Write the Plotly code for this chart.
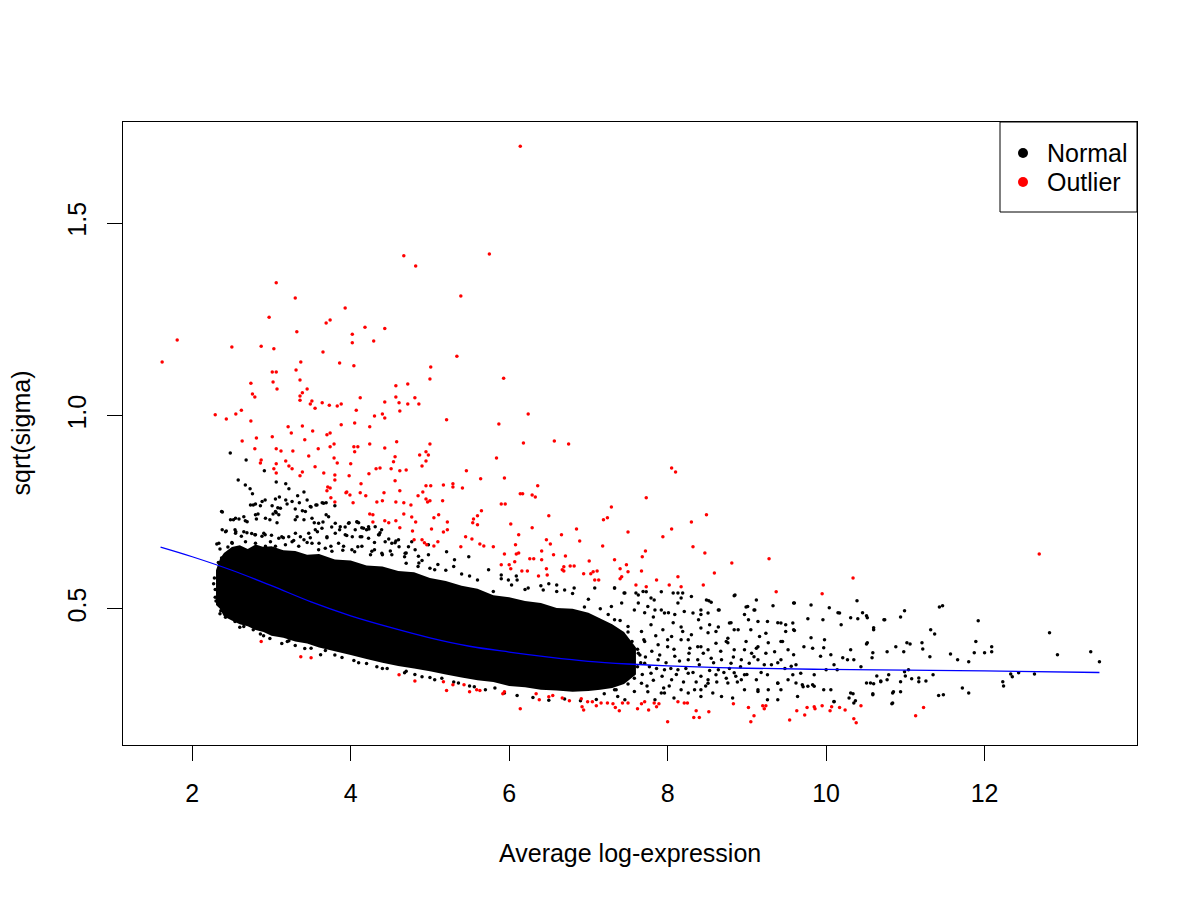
import plotly.graph_objects as go

# ---- data ----
# trend line (sqrt(sigma) vs average log-expression)
trend_x = [1.6, 2.0, 2.5, 3.0, 3.5, 4.0, 4.5, 5.0, 5.5, 6.0, 6.5, 7.0, 7.5, 8.0, 9.0, 10.0, 11.0, 12.0, 13.45]
trend_y = [0.660, 0.635, 0.600, 0.560, 0.518, 0.482, 0.452, 0.425, 0.403, 0.388, 0.375, 0.364, 0.357, 0.352, 0.346, 0.343, 0.341, 0.339, 0.335]

# envelope of the solid black core (too many points to tell apart)
core_x = [2.30, 2.35, 2.40, 2.50, 2.60, 2.70, 2.80, 2.90, 3.00, 3.15, 3.30, 3.45, 3.60, 3.80, 4.00, 4.20, 4.40,
          4.60, 4.80, 5.00, 5.20, 5.40, 5.60, 5.80, 6.00, 6.20, 6.40, 6.60, 6.80, 7.00, 7.15, 7.30, 7.45, 7.60]
core_top = [0.60, 0.63, 0.645, 0.66, 0.665, 0.655, 0.667, 0.66, 0.662, 0.652, 0.65, 0.64, 0.642, 0.628, 0.625, 0.612, 0.61,
            0.598, 0.595, 0.58, 0.572, 0.56, 0.552, 0.535, 0.53, 0.52, 0.515, 0.502, 0.50, 0.49, 0.475, 0.46, 0.44, 0.40]
core_bot = [0.51, 0.50, 0.48, 0.47, 0.46, 0.455, 0.445, 0.44, 0.43, 0.425, 0.415, 0.41, 0.40, 0.39, 0.38, 0.37, 0.36,
            0.352, 0.345, 0.338, 0.33, 0.322, 0.315, 0.31, 0.30, 0.297, 0.29, 0.288, 0.285, 0.287, 0.29, 0.295, 0.305, 0.33]

# normal genes outside the solid core
normal_pts = [
    (2.48, 0.904), (2.68, 0.886), (2.58, 0.834), (3.06, 0.829), (2.91, 0.858), (2.67, 0.821), (2.73, 0.811),
    (2.76, 0.798), (3.18, 0.824), (3.22, 0.811), (3.41, 0.803), (3.33, 0.793), (3.10, 0.790), (2.92, 0.782),
    (2.86, 0.767), (2.77, 0.769), (3.05, 0.785), (3.18, 0.782), (3.45, 0.782), (3.56, 0.769), (3.64, 0.775),
    (3.69, 0.775), (3.80, 0.767), (3.50, 0.764), (3.30, 0.759), (3.08, 0.762), (3.06, 0.749), (2.38, 0.751),
    (3.02, 0.746), (2.83, 0.746), (2.52, 0.731), (2.59, 0.733), (2.67, 0.728), (2.81, 0.733), (2.98, 0.731),
    (3.07, 0.723), (3.30, 0.731), (3.39, 0.754), (3.41, 0.731), (3.54, 0.723), (3.65, 0.725), (3.69, 0.744),
    (3.76, 0.712), (3.86, 0.705), (3.98, 0.723), (4.08, 0.725), (4.14, 0.710), (4.20, 0.705), (4.39, 0.705),
    (2.43, 0.702), (2.54, 0.705), (2.69, 0.697), (2.79, 0.692), (2.92, 0.692), (3.13, 0.687), (3.26, 0.674),
    (3.41, 0.679), (3.49, 0.684), (3.70, 0.684), (4.02, 0.687), (4.36, 0.692), (4.48, 0.681), (4.57, 0.676),
    (2.31, 0.668), (4.61, 0.661), (4.09, 0.661),
    (2.735, 0.769), (2.798, 0.772), (2.882, 0.778), (3.008, 0.767), (3.113, 0.761), (3.197, 0.772), (3.260, 0.778),
    (3.352, 0.775), (3.490, 0.765), (3.574, 0.769), (3.658, 0.774), (2.370, 0.752), (3.050, 0.752), (2.483, 0.731),
    (2.546, 0.735), (2.651, 0.739), (2.693, 0.726), (2.798, 0.744), (2.924, 0.735), (3.092, 0.744), (3.323, 0.739),
    (3.428, 0.752), (3.511, 0.735), (3.595, 0.722), (3.721, 0.739), (3.805, 0.722), (3.868, 0.713), (3.973, 0.722),
    (4.078, 0.726), (4.162, 0.709), (4.225, 0.713), (4.309, 0.713), (2.420, 0.700), (2.378, 0.705), (2.546, 0.696),
    (2.651, 0.700), (2.798, 0.692), (2.903, 0.696), (2.987, 0.674), (3.092, 0.683), (3.218, 0.687), (3.302, 0.696),
    (3.365, 0.687), (3.470, 0.696), (3.553, 0.705), (3.637, 0.709), (3.700, 0.687), (3.805, 0.696), (3.847, 0.670),
    (3.931, 0.692), (4.057, 0.705), (4.120, 0.687), (4.225, 0.683), (4.351, 0.692), (4.435, 0.674), (4.519, 0.670),
    (4.603, 0.679), (4.729, 0.661), (4.813, 0.653), (2.336, 0.670), (2.504, 0.670), (2.672, 0.674), (2.798, 0.670),
    (2.924, 0.662), (3.050, 0.662), (3.176, 0.666), (3.344, 0.662), (3.511, 0.670), (3.595, 0.653), (3.679, 0.657),
    (3.763, 0.649), (3.910, 0.662), (4.015, 0.653), (4.141, 0.662), (4.267, 0.649), (4.393, 0.644), (4.519, 0.640),
    (4.687, 0.644), (4.855, 0.636), (4.981, 0.640),
    (2.35, 0.655), (2.50, 0.672), (2.62, 0.688), (2.75, 0.695), (2.88, 0.688), (3.00, 0.691), (3.15, 0.684),
    (3.28, 0.677), (3.45, 0.672), (3.60, 0.670), (3.75, 0.662), (3.90, 0.652), (4.05, 0.648), (4.25, 0.640),
    (4.40, 0.640), (4.70, 0.618), (4.85, 0.610), (5.00, 0.605), (2.55, 0.700), (3.58, 0.700), (3.95, 0.690),
    (4.30, 0.672),
    (4.10, 0.723), (4.23, 0.707), (4.37, 0.697), (4.56, 0.671), (4.77, 0.674), (4.98, 0.666), (5.21, 0.648),
    (5.31, 0.627), (5.49, 0.635), (5.74, 0.601), (5.90, 0.588), (5.99, 0.575), (4.30, 0.653), (4.68, 0.635),
    (4.86, 0.619), (5.06, 0.601), (3.93, 0.712), (4.14, 0.687),
    (2.35, 0.487), (2.54, 0.467), (2.65, 0.454), (2.77, 0.446), (2.86, 0.435), (2.98, 0.423), (3.13, 0.410),
    (3.22, 0.417), (3.30, 0.405), (3.42, 0.397), (3.62, 0.381), (3.68, 0.392), (3.89, 0.374), (4.04, 0.366),
    (4.20, 0.358), (4.33, 0.350), (4.46, 0.345), (4.68, 0.334), (4.81, 0.330), (5.06, 0.316), (5.36, 0.308),
    (5.56, 0.298), (5.82, 0.295), (5.94, 0.282), (4.90, 0.324), (5.15, 0.320),
    (2.29, 0.550), (2.28, 0.580), (2.29, 0.530), (2.33, 0.620), (2.27, 0.565), (2.30, 0.520), (2.36, 0.495),
    (2.42, 0.478), (2.37, 0.632), (2.45, 0.660),
    (6.20, 0.550), (5.80, 0.545), (5.60, 0.575), (5.40, 0.590), (5.20, 0.600), (5.50, 0.585), (5.30, 0.610),
    (5.10, 0.615), (4.90, 0.625), (4.70, 0.645), (4.50, 0.650), (6.40, 0.560), (6.60, 0.545), (6.80, 0.540),
    (7.00, 0.525), (6.10, 0.575), (6.50, 0.565), (6.95, 0.505), (7.15, 0.500), (7.25, 0.485), (7.40, 0.470),
    (7.50, 0.440), (7.55, 0.415), (7.65, 0.380), (7.62, 0.350), (7.58, 0.320), (7.50, 0.305), (7.35, 0.290),
    (7.20, 0.280),
    (6.10, 0.275), (6.30, 0.270), (6.50, 0.263), (6.70, 0.266), (6.90, 0.262), (7.10, 0.265), (5.70, 0.290),
    (5.50, 0.300), (5.30, 0.310), (5.00, 0.322), (4.70, 0.338), (4.40, 0.345), (4.10, 0.360), (3.80, 0.380),
    (3.50, 0.398), (3.20, 0.415), (2.90, 0.430), (2.60, 0.452),
    (7.62, 0.395), (7.66, 0.360), (7.68, 0.330), (7.72, 0.375), (7.74, 0.300), (7.77, 0.350), (7.80, 0.390),
    (7.82, 0.315), (7.86, 0.345), (7.90, 0.380), (7.93, 0.325), (7.98, 0.360), (8.02, 0.300), (8.04, 0.345),
    (8.08, 0.395), (8.11, 0.330), (8.15, 0.365), (8.20, 0.310), (8.23, 0.345), (8.27, 0.385), (8.32, 0.335),
    (8.36, 0.310), (8.40, 0.355), (8.45, 0.385), (8.48, 0.300), (8.53, 0.340), (8.58, 0.360), (8.62, 0.310),
    (8.67, 0.390), (8.71, 0.335), (8.78, 0.345), (8.83, 0.375), (8.88, 0.310), (8.92, 0.350), (9.00, 0.330),
    (9.06, 0.385), (9.18, 0.335), (9.22, 0.355), (9.48, 0.345), (9.62, 0.355), (7.70, 0.420), (7.85, 0.430),
    (8.00, 0.420), (7.75, 0.285), (7.95, 0.295),
    (5.90, 0.578), (6.09, 0.585), (6.03, 0.562), (6.24, 0.554), (6.43, 0.549), (6.60, 0.562), (6.70, 0.549),
    (6.82, 0.554), (7.08, 0.554), (7.33, 0.554), (7.45, 0.541), (7.60, 0.541), (7.73, 0.544), (7.92, 0.544),
    (8.13, 0.541), (8.17, 0.528), (8.52, 0.521), (8.85, 0.536), (9.12, 0.523), (9.59, 0.515), (9.81, 0.510),
    (10.04, 0.503), (10.39, 0.521), (10.94, 0.479), (8.99, 0.505), (9.09, 0.497), (8.64, 0.497), (8.80, 0.464),
    (9.02, 0.472), (9.39, 0.464), (9.49, 0.459), (9.59, 0.446), (9.77, 0.474), (9.96, 0.472), (10.15, 0.490),
    (10.31, 0.477), (10.40, 0.474), (10.52, 0.477), (10.73, 0.472), (10.60, 0.446), (10.52, 0.412), (10.59, 0.386),
    (10.88, 0.402), (10.77, 0.389), (10.31, 0.394), (10.35, 0.368), (10.44, 0.350), (10.21, 0.373), (10.10, 0.355),
    (9.97, 0.399), (9.81, 0.425), (9.72, 0.402), (9.59, 0.381), (9.43, 0.415), (9.39, 0.360), (9.27, 0.412),
    (9.14, 0.402), (9.09, 0.376), (8.99, 0.415), (8.84, 0.446), (8.76, 0.412), (8.64, 0.453), (8.51, 0.438),
    (8.42, 0.402), (8.39, 0.472), (8.26, 0.420), (8.17, 0.453), (8.07, 0.464), (8.01, 0.490), (7.92, 0.497),
    (7.82, 0.479), (7.71, 0.490), (7.63, 0.515), (7.83, 0.523), (8.42, 0.497),
    (8.84, 0.334), (8.93, 0.316), (9.14, 0.290), (9.27, 0.290), (9.39, 0.264), (9.39, 0.308), (9.52, 0.316),
    (9.62, 0.308), (9.71, 0.298), (9.83, 0.303), (9.97, 0.290), (10.10, 0.259), (10.31, 0.282), (10.35, 0.256),
    (10.56, 0.308), (10.69, 0.311), (10.59, 0.277), (10.84, 0.256), (10.85, 0.285), (8.64, 0.342), (8.51, 0.316),
    (8.76, 0.308), (8.42, 0.290), (8.26, 0.282), (8.08, 0.269), (7.92, 0.282),
    (7.33, 0.554), (7.46, 0.541), (7.63, 0.536), (7.69, 0.545), (7.79, 0.528), (8.07, 0.541), (8.19, 0.541),
    (8.13, 0.515), (8.30, 0.532), (8.49, 0.523), (8.55, 0.517), (8.84, 0.534), (9.33, 0.508), (9.60, 0.515),
    (7.29, 0.506), (7.42, 0.515), (7.58, 0.497), (7.75, 0.506), (7.84, 0.497), (7.96, 0.489), (8.09, 0.485),
    (8.21, 0.493), (8.32, 0.489), (8.42, 0.485), (8.51, 0.489), (8.65, 0.497), (8.78, 0.463), (8.97, 0.485),
    (9.01, 0.506), (9.10, 0.497), (9.14, 0.467), (9.26, 0.467), (9.43, 0.463), (9.58, 0.463), (10.17, 0.489),
    (10.19, 0.459), (7.33, 0.472), (7.50, 0.454), (7.67, 0.441), (7.79, 0.459), (7.94, 0.446), (8.05, 0.428),
    (8.19, 0.441), (8.30, 0.433), (8.42, 0.450), (8.53, 0.459), (8.61, 0.441), (8.76, 0.424), (8.89, 0.446),
    (9.05, 0.446), (9.16, 0.428), (9.24, 0.437), (9.49, 0.441), (9.60, 0.444), (9.98, 0.420), (7.21, 0.420),
    (7.37, 0.411), (7.54, 0.398), (7.71, 0.415), (7.88, 0.407), (8.00, 0.402), (8.17, 0.420), (8.28, 0.398),
    (8.38, 0.402), (8.51, 0.394), (8.61, 0.411), (8.74, 0.415), (8.84, 0.394), (8.97, 0.394), (9.12, 0.398),
    (9.24, 0.385), (9.35, 0.389), (9.45, 0.415), (9.52, 0.394), (9.83, 0.398), (9.93, 0.377), (10.06, 0.381),
    (10.27, 0.368), (8.26, 0.368), (8.38, 0.368), (8.55, 0.372), (8.68, 0.368), (8.80, 0.359), (8.93, 0.368),
    (9.03, 0.359), (9.14, 0.368), (9.31, 0.355), (9.43, 0.368), (9.56, 0.351), (9.68, 0.333), (9.85, 0.329),
    (10.00, 0.342), (10.14, 0.342), (8.26, 0.333), (8.42, 0.325), (8.51, 0.307), (8.61, 0.329), (8.74, 0.320),
    (8.86, 0.325), (8.97, 0.329), (9.12, 0.316), (9.26, 0.329), (9.39, 0.307), (9.43, 0.290), (9.58, 0.329),
    (9.70, 0.303), (9.85, 0.299), (10.06, 0.290), (10.29, 0.269), (8.34, 0.290), (8.42, 0.273), (8.57, 0.282),
    (8.68, 0.273), (8.82, 0.269), (8.97, 0.290), (9.14, 0.286), (9.26, 0.264), (9.64, 0.273), (9.77, 0.299),
    (10.10, 0.260), (8.09, 0.377), (8.13, 0.342), (8.05, 0.316), (8.17, 0.290), (7.96, 0.342), (7.88, 0.368),
    (7.79, 0.333), (7.67, 0.307), (7.58, 0.286), (7.96, 0.282), (7.71, 0.359), (7.63, 0.385), (7.48, 0.368),
    (7.42, 0.325), (7.33, 0.290), (7.25, 0.368), (7.21, 0.316), (7.37, 0.273), (7.84, 0.264), (7.46, 0.264),
    (10.46, 0.490), (10.51, 0.482), (10.60, 0.451), (10.74, 0.472), (10.99, 0.495), (11.43, 0.505), (11.47, 0.508),
    (11.32, 0.446), (11.37, 0.435), (11.92, 0.469), (11.89, 0.415), (12.82, 0.438), (12.92, 0.381), (13.34, 0.389),
    (13.45, 0.363), (10.51, 0.409), (10.58, 0.373), (10.98, 0.389), (11.02, 0.412), (11.06, 0.409), (11.21, 0.412),
    (11.22, 0.396), (11.31, 0.376), (11.57, 0.383), (11.66, 0.368), (11.80, 0.363), (11.87, 0.386), (12.00, 0.386),
    (12.09, 0.389), (12.09, 0.402), (10.64, 0.326), (10.79, 0.329), (10.99, 0.337), (11.00, 0.326), (11.08, 0.319),
    (11.17, 0.321), (11.26, 0.313), (11.35, 0.329), (10.51, 0.308), (10.60, 0.306), (10.69, 0.313), (10.77, 0.316),
    (10.94, 0.311), (11.17, 0.311), (10.34, 0.280), (10.59, 0.280), (10.84, 0.282), (10.94, 0.285), (11.42, 0.275),
    (11.48, 0.277), (11.72, 0.295), (11.80, 0.282), (12.23, 0.311), (12.24, 0.300), (12.33, 0.331), (12.35, 0.324),
    (12.43, 0.334), (12.63, 0.331), (10.37, 0.262), (10.83, 0.254), (11.04, 0.342),
]

# outlier genes (red)
outlier_pts = [
    (1.62, 1.140), (1.81, 1.197), (2.97, 1.256), (3.93, 1.280), (3.69, 1.241), (3.74, 1.249), (3.32, 1.218),
    (2.50, 1.179), (2.87, 1.181), (3.03, 1.174), (4.02, 1.212), (4.18, 1.230), (4.43, 1.227), (4.29, 1.194),
    (4.02, 1.190), (3.65, 1.166), (3.86, 1.137), (4.04, 1.130), (3.37, 1.140), (3.31, 1.119), (3.01, 1.114),
    (3.06, 1.114), (3.36, 1.093), (2.74, 1.085), (3.02, 1.088), (3.07, 1.070), (3.45, 1.070), (3.39, 1.060),
    (2.76, 1.057), (2.79, 1.049), (3.36, 1.052), (3.36, 1.041), (3.51, 1.039), (3.49, 1.031), (3.64, 1.034),
    (3.55, 1.020), (3.73, 1.028), (3.83, 1.026), (3.88, 1.031), (4.12, 1.047), (4.43, 1.036), (4.57, 1.078),
    (4.72, 1.083), (4.57, 1.049), (4.81, 1.047), (4.61, 1.034), (4.72, 1.031), (4.86, 1.031), (4.62, 1.013),
    (5.01, 1.127), (5.00, 1.096), (5.34, 1.155), (5.93, 1.098), (5.21, 0.990), (5.87, 0.979), (2.29, 1.003),
    (2.43, 0.992), (2.55, 1.005), (2.62, 1.015), (2.74, 0.987), (3.21, 0.972), (3.25, 0.956), (3.39, 0.974),
    (3.52, 0.961), (3.70, 0.951), (3.74, 0.956), (3.88, 0.977), (4.05, 0.982), (4.07, 1.015), (4.30, 1.000),
    (4.40, 1.005), (4.43, 0.995), (4.24, 0.972), (2.63, 0.935), (2.81, 0.943), (3.01, 0.946), (2.79, 0.915),
    (3.06, 0.915), (3.27, 0.909), (3.12, 0.909), (3.42, 0.938), (3.59, 0.915), (3.74, 0.920), (3.79, 0.927),
    (4.04, 0.920), (4.09, 0.920), (4.05, 0.907), (4.24, 0.927), (4.43, 0.917), (4.58, 0.933), (5.00, 0.927),
    (4.87, 0.899), (4.95, 0.907), (4.98, 0.899), (3.47, 0.896), (2.87, 0.886), (2.86, 0.878), (3.06, 0.876),
    (3.18, 0.883), (3.79, 0.891), (3.83, 0.878), (4.00, 0.876), (4.56, 0.894), (4.54, 0.881), (4.95, 0.883),
    (4.90, 0.870), (3.03, 0.863), (3.06, 0.852), (3.22, 0.870), (3.26, 0.863), (3.39, 0.855), (3.36, 0.845),
    (3.55, 0.868), (3.66, 0.852), (3.80, 0.847), (3.80, 0.834), (3.98, 0.845), (4.23, 0.850), (4.32, 0.863),
    (4.37, 0.865), (4.51, 0.863), (4.62, 0.858), (4.70, 0.860), (5.46, 0.858), (5.64, 0.837), (5.94, 0.839),
    (5.84, 0.891), (3.71, 0.816), (3.74, 0.813), (3.70, 0.806), (3.94, 0.801), (3.95, 0.803), (4.13, 0.824),
    (4.12, 0.801), (4.19, 0.793), (4.42, 0.801), (4.56, 0.832), (4.62, 0.806), (4.85, 0.793), (4.91, 0.803),
    (4.95, 0.819), (5.01, 0.819), (5.17, 0.821), (5.29, 0.824), (5.29, 0.816), (5.41, 0.813), (3.75, 0.788),
    (3.80, 0.777), (3.99, 0.795), (4.03, 0.775), (4.33, 0.777), (4.40, 0.780), (4.57, 0.777), (4.67, 0.775),
    (4.76, 0.769), (4.95, 0.785), (5.00, 0.780), (4.97, 0.777), (5.16, 0.780), (4.24, 0.746), (4.28, 0.744),
    (4.28, 0.725), (4.43, 0.728), (4.48, 0.723), (4.57, 0.728), (4.62, 0.710), (4.67, 0.746), (4.77, 0.738),
    (4.82, 0.725), (5.05, 0.736), (5.11, 0.744), (5.22, 0.725), (5.02, 0.707), (5.17, 0.699), (5.22, 0.705),
    (4.78, 0.702), (4.80, 0.679), (4.90, 0.679), (4.93, 0.671), (4.96, 0.666), (5.05, 0.663), (5.10, 0.674),
    (5.39, 0.661), (5.45, 0.687), (5.53, 0.681), (5.54, 0.723), (5.55, 0.733), (5.60, 0.741), (5.65, 0.754),
    (5.60, 0.718), (5.63, 0.668), (5.68, 0.663), (5.80, 0.661), (5.90, 0.772), (5.95, 0.772), (6.02, 0.720),
    (6.08, 0.666), (6.12, 0.692), (6.14, 0.798),
    (2.87, 0.415), (3.37, 0.376), (3.50, 0.373), (4.61, 0.329), (4.81, 0.313), (5.17, 0.311), (5.21, 0.288),
    (5.29, 0.303), (5.43, 0.303), (5.50, 0.285), (5.59, 0.290), (5.63, 0.288), (5.92, 0.280), (5.94, 0.285),
    (6.14, 0.241),
    (6.14, 1.699), (3.06, 1.345), (3.30, 1.306), (4.67, 1.415), (4.82, 1.389), (5.75, 1.420), (5.39, 1.311),
    (6.24, 1.005), (6.18, 0.930), (6.57, 0.935), (6.75, 0.927), (8.05, 0.865), (8.10, 0.855), (6.36, 0.819),
    (6.17, 0.798), (6.29, 0.795), (6.33, 0.790), (7.73, 0.788), (7.29, 0.764), (6.50, 0.741), (7.19, 0.731),
    (7.24, 0.736), (8.49, 0.744), (8.30, 0.725), (6.29, 0.710), (7.50, 0.699), (7.94, 0.687), (8.05, 0.707),
    (6.66, 0.692), (6.85, 0.707), (6.89, 0.676), (6.52, 0.668), (6.47, 0.679), (6.41, 0.650), (6.56, 0.640),
    (6.71, 0.637), (7.18, 0.663), (7.72, 0.650), (8.32, 0.661), (8.47, 0.645), (7.68, 0.635), (5.94, 0.642),
    (6.09, 0.642), (6.12, 0.645), (6.07, 0.622), (6.26, 0.630), (6.31, 0.630), (6.41, 0.627), (5.90, 0.614),
    (6.00, 0.614), (6.02, 0.604), (6.47, 0.604), (6.69, 0.609), (6.77, 0.611), (6.82, 0.611), (7.01, 0.624),
    (7.33, 0.627), (7.48, 0.614), (7.40, 0.604), (7.50, 0.596), (7.67, 0.598), (8.81, 0.619), (9.28, 0.630),
    (6.16, 0.598), (6.23, 0.598), (6.37, 0.585), (6.48, 0.588), (6.67, 0.601), (6.69, 0.598), (6.94, 0.591),
    (7.03, 0.591), (7.06, 0.596), (7.11, 0.598), (7.13, 0.575), (7.08, 0.575), (7.42, 0.583), (7.40, 0.578),
    (7.60, 0.562), (7.73, 0.557), (7.86, 0.575), (8.13, 0.583), (8.02, 0.562), (8.17, 0.557), (8.45, 0.562),
    (8.59, 0.593), (9.37, 0.544), (9.95, 0.539), (10.34, 0.580),
    (6.34, 0.280), (6.38, 0.264), (6.50, 0.272), (6.55, 0.275), (6.67, 0.269), (6.76, 0.262), (6.91, 0.267),
    (6.92, 0.246), (6.94, 0.238), (6.99, 0.259), (7.05, 0.259), (7.10, 0.249), (7.16, 0.256), (7.24, 0.256),
    (7.31, 0.254), (7.34, 0.244), (7.39, 0.236), (7.43, 0.256), (7.50, 0.256), (7.62, 0.241), (7.67, 0.254),
    (7.71, 0.259), (7.76, 0.238), (7.83, 0.256), (7.86, 0.246), (7.89, 0.254), (8.00, 0.207), (8.13, 0.259),
    (8.21, 0.256), (8.25, 0.256), (8.33, 0.218), (8.40, 0.218), (8.36, 0.236), (8.52, 0.233), (8.83, 0.254),
    (9.02, 0.244), (9.05, 0.207), (9.09, 0.223), (9.20, 0.249), (9.22, 0.241), (9.24, 0.249), (9.54, 0.212),
    (9.63, 0.236), (9.73, 0.225), (9.76, 0.244), (9.85, 0.246), (9.86, 0.241), (9.95, 0.249), (10.05, 0.236),
    (10.07, 0.246), (10.17, 0.244), (10.24, 0.238), (10.35, 0.215), (10.38, 0.205), (10.44, 0.249),
    (12.69, 0.642), (11.23, 0.244), (11.13, 0.223),
]

legend_labels = ["Normal", "Outlier"]
legend_colors = ["black", "red"]

x_ticks = [2, 4, 6, 8, 10, 12]
y_ticks = [0.5, 1.0, 1.5]
y_ticktext = ["0.5", "1.0", "1.5"]

FONT = "Liberation Sans, Arial, Helvetica, sans-serif"

# plot box in screen pixels (the page puts the figure 8px in from the corner)
PL, PR, PT, PB = 123, 1137, 122, 745


def px_x(p):
    return (p - PL) / (PR - PL)


def px_y(p):
    return (PB - p) / (PB - PT)


fig = go.Figure()

# solid core
fig.add_trace(go.Scatter(
    x=core_x + core_x[::-1],
    y=core_top + core_bot[::-1],
    fill="toself", fillcolor="black", mode="none",
    hoverinfo="skip", showlegend=False,
))

fig.add_trace(go.Scatter(
    x=[p[0] for p in normal_pts], y=[p[1] for p in normal_pts],
    mode="markers", marker=dict(color="black", size=3.5, line=dict(width=0)),
    showlegend=False,
))
fig.add_trace(go.Scatter(
    x=[p[0] for p in outlier_pts], y=[p[1] for p in outlier_pts],
    mode="markers", marker=dict(color="red", size=3.5, line=dict(width=0)),
    showlegend=False,
))
fig.add_trace(go.Scatter(
    x=trend_x, y=trend_y, mode="lines", line=dict(color="blue", width=1.3),
    line_shape="spline", showlegend=False,
))

# legend box drawn by hand, R style
shapes = [dict(type="rect", xref="paper", yref="paper", x0=px_x(1000), x1=1.0, y0=px_y(212), y1=1.0,
               line=dict(color="black", width=1), fillcolor="white", layer="above")]
annotations = []
for i, (lab, col) in enumerate(zip(legend_labels, legend_colors)):
    yy = px_y(153 + 29 * i)
    shapes.append(dict(type="circle", xref="paper", yref="paper", xsizemode="pixel", ysizemode="pixel",
                       xanchor=px_x(1023), yanchor=yy, x0=-5, x1=5, y0=-5, y1=5,
                       fillcolor=col, line=dict(width=0), layer="above"))
    annotations.append(dict(text=lab, x=px_x(1045), y=yy, xref="paper", yref="paper",
                            xanchor="left", yanchor="middle", showarrow=False, font=dict(size=25)))

annotations += [
    dict(text="Average log-expression", x=0.5, y=0, xref="paper", yref="paper",
         xanchor="center", yanchor="middle", yshift=-108, showarrow=False, font=dict(size=25)),
    dict(text="sqrt(sigma)", x=0, y=0.5, xref="paper", yref="paper",
         xanchor="center", yanchor="middle", xshift=-103, textangle=-90,
         showarrow=False, font=dict(size=25)),
]

fig.update_layout(
    width=1192, height=892, autosize=False,
    margin=dict(l=115, r=63, t=114, b=155),
    paper_bgcolor="white", plot_bgcolor="white",
    font=dict(family=FONT, size=25, color="black"),
    showlegend=False,
    shapes=shapes,
    annotations=annotations,
)

fig.update_xaxes(
    range=[1.126, 13.924], tickvals=x_ticks, ticks="outside", ticklen=15,
    tickcolor="black", showline=True, mirror=True, linecolor="black", linewidth=1,
    showgrid=False, zeroline=False, ticklabelstandoff=11,
)
fig.update_yaxes(
    range=[0.147, 1.762], tickvals=y_ticks, ticktext=y_ticktext, ticks="outside",
    ticklen=15, tickcolor="black", showline=True, mirror=True, linecolor="black",
    linewidth=1, showgrid=False, zeroline=False, tickangle=-90, ticklabelstandoff=11,
)

fig.write_html("out.html")
